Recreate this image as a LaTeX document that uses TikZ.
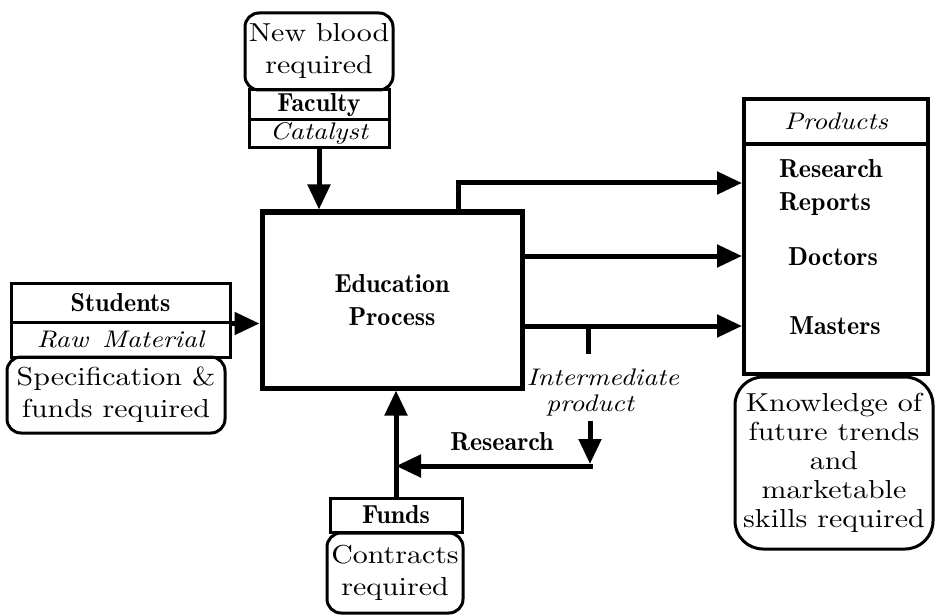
\documentclass[tikz,border=0pt]{standalone}
\usepackage{fontspec}
\setmainfont{lmroman10}[Extension=.otf, UprightFont=*-regular, BoldFont=*-bold, ItalicFont=*-italic, BoldItalicFont=*-bolditalic, FakeStretch=1.15]
\newfontfamily\demifam{lmromandemi10}[Extension=.otf, UprightFont=*-regular]
\usetikzlibrary{arrows.meta,calc}
\newcommand\regf{\fontsize{26}{32}\selectfont}
\newcommand\knowf{\fontsize{26}{29}\selectfont}
\newcommand\boldf{\fontsize{26}{33}\selectfont\demifam}
\newcommand\itf{\fontsize{24}{28}\selectfont\itshape}
\tikzset{
  bx/.style={draw, line width=3pt, inner sep=0pt, align=center},
  rbx/.style={draw, line width=3pt, rounded corners=14pt, inner sep=0pt, align=center},
  arr/.style={line width=5pt, -{Triangle[length=25pt,width=22pt]}},
  ln/.style={line width=5pt},
  txt/.style={inner sep=0pt, align=center},
}
\begin{document}
\begin{tikzpicture}[x=1pt,y=-1pt]
\fill[white] (0,0) rectangle (935,615);
\useasboundingbox (0,0) rectangle (935,615);

% Faculty group
\node[rbx, minimum width=148pt, minimum height=77pt, font=\regf] (nb) at (319,51.5) {New blood\\required};
\node[bx, minimum width=140pt, minimum height=30pt, font=\boldf] (fac) at (319,105) {Faculty};
\node[bx, minimum width=140pt, minimum height=28pt, font=\itf] (cat) at (319,134) {Catalyst};

% Education process
\node[bx, line width=5pt, minimum width=260pt, minimum height=176pt, font=\boldf] (edu) at (392,300) {Education\\Process};

% Students group
\node[bx, minimum width=219pt, minimum height=39pt, font=\boldf] (stu) at (120.5,302.5) {Students};
\node[bx, minimum width=219pt, minimum height=35pt, font=\itf] (raw) at (120.5,339.5) {Raw\hspace{14pt}Material};
\node[rbx, minimum width=218pt, minimum height=76pt, font=\regf] (spec) at (116,395) {Specification \&\\funds required};

% Funds group
\node[bx, minimum width=132pt, minimum height=34pt, font=\boldf] (funds) at (396,515) {Funds};
\node[rbx, minimum width=136pt, minimum height=80pt, font=\regf] (con) at (395,573) {Contracts\\required};

% Products
\node[bx, line width=4pt, minimum width=184pt, minimum height=45pt, font=\itf] (prodh) at (836,121.5) {Products};
\node[bx, line width=4pt, minimum width=184pt, minimum height=230pt] (prod) at (836,259) {};
\node[txt, font=\boldf, align=left, anchor=west] (rr) at (779,188) {Research\\Reports};
\node[txt, font=\boldf] (doc) at (833,257) {Doctors};
\node[txt, font=\boldf] (mas) at (835,326) {Masters};

\node[rbx, rounded corners=28pt, minimum width=198pt, minimum height=172pt, font=\knowf] (kn) at (834,463) {Knowledge of\\future trends\\and\\marketable\\skills required};

% Labels
\node[txt, font=\itf] (im) at (603,377) {Intermediate};
\node[txt, font=\itf] (pd) at (590,405) {product};
\node[txt, font=\boldf] (res) at (502,442) {Research};

% Coordinates
\coordinate (topout) at ($(edu.north west)!0.75!(edu.north east)$);
\coordinate (yR) at (0,183);
\coordinate (yD) at (0,256);
\coordinate (yM) at (0,326);
\coordinate (tick) at (588,326);
\coordinate (tickend) at (588,354);
\coordinate (dn) at (590,421);
\coordinate (dnend) at (590,464);
\coordinate (corner) at (592.5,466);

% Connectors
\draw[arr] (cat.south) -- (cat.south |- edu.north);
\draw[arr] (stu.south east) -- (stu.south east -| edu.west);
\draw[arr] (topout) |- (yR -| prod.west);
\draw[arr] (yD -| edu.east) -- (yD -| prod.west);
\draw[arr] (yM -| edu.east) -- (yM -| prod.west);
\draw[ln] (tick) -- (tickend);
\draw[arr] (dn) -- (dnend);
\draw[arr] (corner) -- (corner -| funds.north);
\draw[arr] (funds.north) -- (funds.north |- edu.south);
\end{tikzpicture}
\end{document}
